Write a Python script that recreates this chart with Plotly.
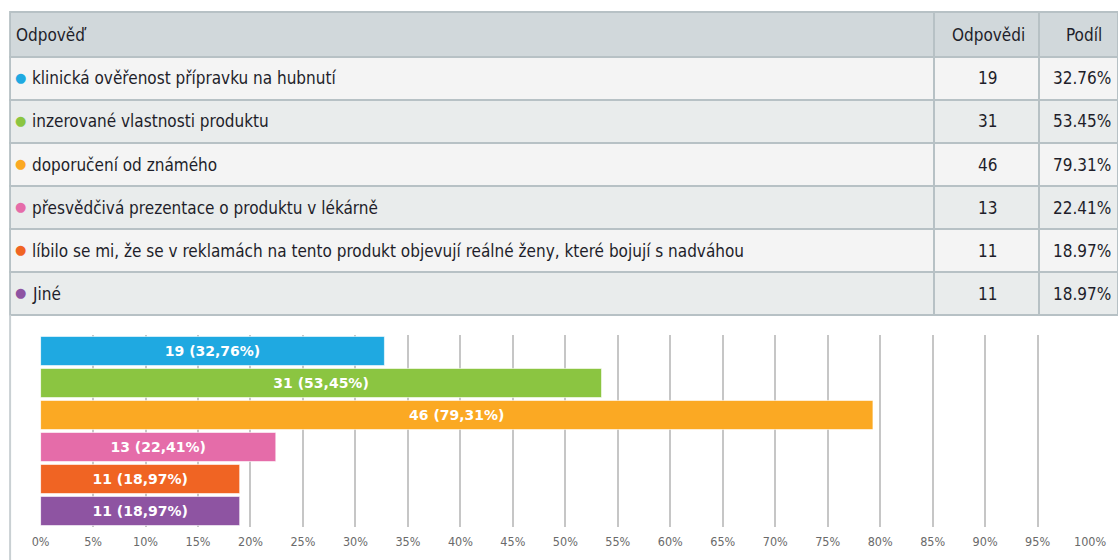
import plotly.graph_objects as go

answers = [
    "klinická ověřenost přípravku na hubnutí",
    "inzerované vlastnosti produktu",
    "doporučení od známého",
    "přesvědčivá prezentace o produktu v lékárně",
    "líbilo se mi, že se v reklamách na tento produkt objevují reálné ženy, které bojují s nadváhou",
    "Jiné",
]
counts = [19, 31, 46, 13, 11, 11]
shares = [32.76, 53.45, 79.31, 22.41, 18.97, 18.97]
colors = ["#1fa9e1", "#8bc541", "#fba923", "#e56ca9", "#f06423", "#8e54a2"]
headers = ["Odpověď", "Odpovědi", "Podíl"]
tick_vals = list(range(0, 101, 5))
tick_text = [f"{v}%" for v in tick_vals]

FONT = "DejaVu Sans Condensed, sans-serif"
TXT = "#1e1e2a"
W, H = 1135, 560
BX, SX = 8.9, 0.978   # picture x = BX + SX * paper x (measured)


def fx(px):
    return max(0.0, (px - BX) / SX / W)


def fy(py):
    return 1 - py / H


fig = go.Figure()

# ---- table grid (fills and borders) ----
n = len(answers)
row_fill = ["#f4f4f4" if i % 2 == 0 else "#e9ecec" for i in range(n)]
fig.add_trace(go.Table(
    domain=dict(x=[fx(10), 1.0], y=[fy(316), fy(12)]),
    columnwidth=[925, 105, 79],
    header=dict(values=["", "", ""], fill_color="#d1d8db",
                line=dict(color="#b7c1c5", width=2), height=45),
    cells=dict(values=[[""] * n] * 3, fill_color=[row_fill] * 3,
               line=dict(color="#b7c1c5", width=2), height=43),
))

# invisible helper subplot aligned with the table rows
fig.add_trace(go.Scatter(
    x=[0] * n, y=answers, mode="markers", marker=dict(opacity=0),
    hoverinfo="skip", xaxis="x2", yaxis="y2",
))

# ---- bar chart ----
labels = [f"{c} ({s:.2f}%)".replace(".", ",") for c, s in zip(counts, shares)]
fig.add_trace(go.Bar(
    x=shares, y=answers, orientation="h",
    marker=dict(color=colors, line=dict(color="rgba(255,255,255,0.6)", width=1)),
    text=labels, textposition="inside", insidetextanchor="middle",
    textfont=dict(family="DejaVu Sans, sans-serif", size=14, color="white", weight="bold"),
    hoverinfo="skip", xaxis="x", yaxis="y",
))

ann = []
# header texts
hdr_pos = [(14, "left"), (988, "center"), (1084, "center")]
for h, (x, anc) in zip(headers, hdr_pos):
    ann.append(dict(xref="paper", yref="paper", x=fx(x), y=fy(34.5), text=h,
                    showarrow=False, xanchor=anc, yanchor="middle",
                    font=dict(family=FONT, size=17, color=TXT)))
# rows
for a, c, k, s in zip(answers, colors, counts, shares):
    ann.append(dict(xref="paper", yref="y2", x=fx(20), y=a, text="●", showarrow=False,
                    xanchor="center", yanchor="middle", yshift=1,
                    font=dict(family="DejaVu Sans", size=13, color=c)))
    ann.append(dict(xref="paper", yref="y2", x=fx(30), y=a, text=a, showarrow=False,
                    xanchor="left", yanchor="middle",
                    font=dict(family=FONT, size=17, color=TXT)))
    ann.append(dict(xref="paper", yref="y2", x=fx(987), y=a, text=str(k), showarrow=False,
                    xanchor="center", yanchor="middle",
                    font=dict(family=FONT, size=17, color=TXT)))
    ann.append(dict(xref="paper", yref="y2", x=fx(1113), y=a, text=f"{s:.2f}%",
                    showarrow=False, xanchor="right", yanchor="middle",
                    font=dict(family=FONT, size=17, color=TXT)))

fig.update_layout(
    width=W, height=H,
    margin=dict(l=0, r=0, t=0, b=0),
    paper_bgcolor="white",
    plot_bgcolor="rgba(0,0,0,0)",
    showlegend=False,
    bargap=0.09,
    xaxis=dict(
        domain=[fx(40.5), fx(1090)], range=[0, 100],
        tickvals=tick_vals, ticktext=tick_text,
        showgrid=True, gridcolor="#c6c6c6", gridwidth=1.5,
        zeroline=False, showline=False, ticks="",
        ticklabelstandoff=5,
        tickfont=dict(family=FONT, size=12.5, color="#6a6a6a"),
        anchor="y", fixedrange=True,
    ),
    yaxis=dict(
        domain=[fy(527), fy(335)], autorange="reversed",
        showticklabels=False, showgrid=False, zeroline=False, showline=False,
        anchor="x", fixedrange=True,
    ),
    xaxis2=dict(domain=[fx(10), fx(30)], range=[-1, 1], visible=False,
                anchor="y2", fixedrange=True),
    yaxis2=dict(domain=[fy(315), fy(57)], type="category", categoryarray=answers,
                range=[n - 0.5, -0.5], visible=False, anchor="x2", fixedrange=True),
    annotations=ann,
    shapes=[
        dict(type="line", xref="paper", yref="paper",
             x0=fx(10), x1=fx(10), y0=0, y1=fy(315),
             line=dict(color="#c9d0d3", width=2)),
    ],
)

fig.write_html(
    "out.html",
    config={"displayModeBar": False},
    post_script="document.body.style.margin='0';document.body.style.overflow='hidden';",
)
